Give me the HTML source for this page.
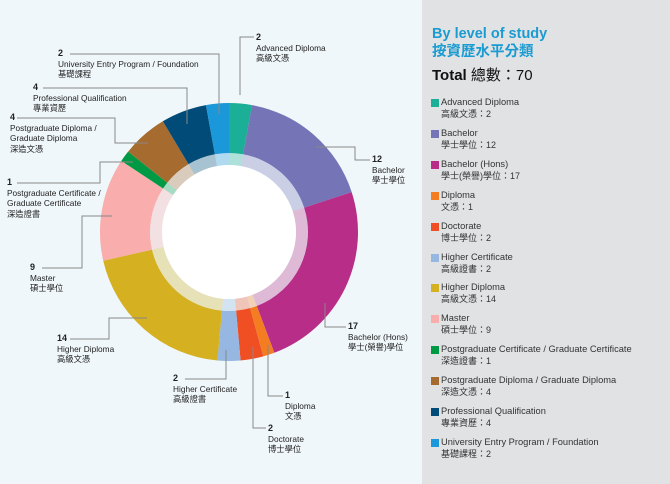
<!DOCTYPE html>
<html><head><meta charset="utf-8"><style>
html,body{margin:0;padding:0}
body{width:670px;height:484px;background:#f0f7fa;position:relative;overflow:hidden;font-family:"Liberation Sans","Noto Sans CJK TC",sans-serif}
#panel{position:absolute;left:422px;top:0;width:248px;height:484px;background:#e1e2e4}
.t{position:absolute;font-size:8.3px;line-height:10.5px;color:#222;white-space:nowrap}
.t b{font-size:9px}
.lg{position:absolute;left:431px;font-size:9.3px;line-height:12px;color:#333;white-space:nowrap}
.lg i{position:absolute;left:0;top:3px;width:8px;height:8px}
.lg span{display:block;padding-left:10px}
.lg span+span{font-size:9px}
</style></head><body>
<div id="panel"></div>
<svg width="670" height="484" style="position:absolute;left:0;top:0" id="s"></svg>
<div style="position:absolute;left:432px;top:25px;color:#1a9bd1;font-weight:bold;font-size:14.5px;line-height:18px">By level of study<br>按資歷水平分類</div>
<div style="position:absolute;left:432px;top:66px;color:#111;font-size:15px;line-height:20px"><b>Total</b> 總數：70</div>
<div id="leg"></div>
<div class="t" style="left:256px;top:32px"><b>2</b><br>Advanced Diploma<br>高級文憑</div>
<div class="t" style="left:372px;top:154px"><b>12</b><br>Bachelor<br>學士學位</div>
<div class="t" style="left:348px;top:321px"><b>17</b><br>Bachelor (Hons)<br>學士(榮譽)學位</div>
<div class="t" style="left:285px;top:390px"><b>1</b><br>Diploma<br>文憑</div>
<div class="t" style="left:268px;top:423px"><b>2</b><br>Doctorate<br>博士學位</div>
<div class="t" style="left:173px;top:373px"><b>2</b><br>Higher Certificate<br>高級證書</div>
<div class="t" style="left:57px;top:333px"><b>14</b><br>Higher Diploma<br>高級文憑</div>
<div class="t" style="left:30px;top:262px"><b>9</b><br>Master<br>碩士學位</div>
<div class="t" style="left:7px;top:177px"><b>1</b><br>Postgraduate Certificate /<br>Graduate Certificate<br>深造證書</div>
<div class="t" style="left:10px;top:112px"><b>4</b><br>Postgraduate Diploma /<br>Graduate Diploma<br>深造文憑</div>
<div class="t" style="left:33px;top:82px"><b>4</b><br>Professional Qualification<br>專業資歷</div>
<div class="t" style="left:58px;top:48px"><b>2</b><br>University Entry Program / Foundation<br>基礎課程</div>
<script>
var d=[["Advanced Diploma","高級文憑：2",2,"#1aaf96"],["Bachelor","學士學位：12",12,"#7474b6"],["Bachelor (Hons)","學士(榮譽)學位：17",17,"#b72d88"],["Diploma","文憑：1",1,"#f47d22"],["Doctorate","博士學位：2",2,"#f04e23"],["Higher Certificate","高級證書：2",2,"#96b7e1"],["Higher Diploma","高級文憑：14",14,"#d5b021"],["Master","碩士學位：9",9,"#f9adad"],["Postgraduate Certificate / Graduate Certificate","深造證書：1",1,"#009a44"],["Postgraduate Diploma / Graduate Diploma","深造文憑：4",4,"#a66b2e"],["Professional Qualification","專業資歷：4",4,"#004b78"],["University Entry Program / Foundation","基礎課程：2",2,"#1b98d9"]];
var cx=229,cy=232,s="",a=0,lg="";
function p(r,t){return [cx+r*Math.sin(t),cy-r*Math.cos(t)]}
function arc(r1,r2,a0,a1){var A=p(r2,a0),B=p(r2,a1),C=p(r1,a1),D=p(r1,a0),l=(a1-a0)>Math.PI?1:0;
return "M"+A+"A"+r2+","+r2+" 0 "+l+" 1 "+B+"L"+C+"A"+r1+","+r1+" 0 "+l+" 0 "+D+"Z";}
d.forEach(function(e,i){var b=a+e[2]/70*2*Math.PI;
s+='<path d="'+arc(79,129,a,b)+'" fill="'+e[3]+'"/>';
s+='<path d="'+arc(67,79,a,b)+'" fill="'+e[3]+'" opacity="0.3"/>';a=b;
lg+='<div class="lg" style="top:'+(96+i*30.9)+'px"><i style="background:'+e[3]+'"></i><span>'+e[0]+'</span><span>'+e[1]+'</span></div>';});
s+='<circle cx="'+cx+'" cy="'+cy+'" r="67" fill="#fff"/>';
var L=[[240,95,240,37,254,37],[316,147,355,147,355,160,370,160],[325,303,325,327,346,327],[268,345,268,396,283,396],[253,347,253,428,266,428],[226,350,226,379,185,379],[147,318,109,318,109,339,70,339],[112,216,82,216,82,268,42,268],[133,162,100,162,100,183,17,183],[148,143,115,143,115,118,17,118],[187,124,187,88,43,88],[219,114,219,54,70,54]];
L.forEach(function(q){s+='<polyline points="'+q.join(",")+'" fill="none" stroke="#888" stroke-width="1"/>';});
document.getElementById("s").innerHTML=s;document.getElementById("leg").innerHTML=lg;
</script>
</body></html>
